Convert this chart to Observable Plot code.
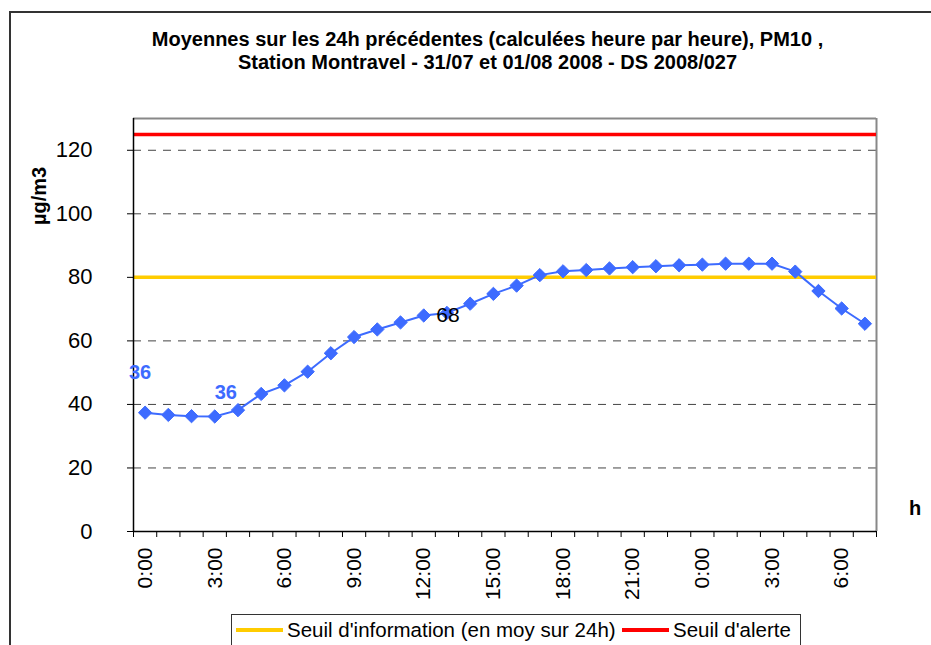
<!DOCTYPE html>
<html>
<head>
<meta charset="utf-8">
<script src="https://cdn.jsdelivr.net/npm/d3@7"></script>
<script src="https://cdn.jsdelivr.net/npm/@observablehq/plot@0.6"></script>
<style>
  html, body { margin: 0; padding: 0; background: #fff; }
  body { font-family: "Liberation Sans", Arial, sans-serif; }
  #wrap { position: relative; width: 931px; height: 645px; overflow: hidden; }
  #wrap svg { position: absolute; left: 0; top: 0; }
  .frame { position: absolute; left: 9px; top: 11px; width: 1000px; height: 1000px;
           border-left: 2px solid #333; border-top: 2px solid #333; box-sizing: border-box; }
  .title { position: absolute; left: 0; width: 975px; top: 28px; text-align: center;
           font-weight: bold; font-size: 20px; line-height: 23px; color: #000; }
  .ylab { position: absolute; left: 39px; top: 196px; transform: translate(-50%, -50%) rotate(-90deg);
          font-weight: bold; font-size: 20px; white-space: nowrap; }
  .hlab { position: absolute; left: 909px; top: 497px; font-weight: bold; font-size: 20px; }
  .legend { position: absolute; left: 231px; top: 614px; width: 570px; height: 60px;
            border: 1px solid #333; box-sizing: border-box; font-size: 20.5px; }
  .legend .item { position: absolute; top: 3px; white-space: nowrap; }
  .legend .sw { display: inline-block; width: 47px; height: 4px; vertical-align: middle;
                margin-right: 4px; position: relative; top: -2px; }
</style>
</head>
<body>
<div id="wrap">
  <div class="frame"></div>
  <div class="title">Moyennes sur les 24h précédentes (calculées heure par heure), PM10 ,<br>Station Montravel - 31/07 et 01/08 2008 - DS 2008/027</div>
  <div class="ylab">µg/m3</div>
  <div class="hlab">h</div>
  <div class="legend">
    <div class="item" style="left:4px"><span class="sw" style="background:#ffcc00"></span>Seuil d'information (en moy sur 24h)</div>
    <div class="item" style="left:390px"><span class="sw" style="background:#ff0000"></span>Seuil d'alerte</div>
  </div>
</div>
<script>
const hourLabels = ["0:00","1:00","2:00","3:00","4:00","5:00","6:00","7:00","8:00","9:00","10:00","11:00",
  "12:00","13:00","14:00","15:00","16:00","17:00","18:00","19:00","20:00","21:00","22:00","23:00",
  "0:00","1:00","2:00","3:00","4:00","5:00","6:00","7:00"];
const pm10 = [37.4, 36.7, 36.3, 36.2, 38.2, 43.3, 46.0, 50.3, 56.1, 61.2, 63.6, 65.8, 68.0, 68.8, 71.7, 74.8,
  77.4, 80.7, 81.9, 82.3, 82.8, 83.2, 83.5, 83.8, 84.0, 84.3, 84.3, 84.3, 81.8, 75.7, 70.2, 65.4];
const shownTicks = [0, 3, 6, 9, 12, 15, 18, 21, 24, 27, 30];
const yTicks = [0, 20, 40, 60, 80, 100, 120];
const gridValues = [20, 40, 60, 100, 120];
const seuilInformation = 80;
const seuilAlerte = 125;
const annotations = [
  {i: 0, label: "36", color: "#3d6bff", weight: "bold", dx: -5, dy: -40},
  {i: 3, label: "36", color: "#3d6bff", weight: "bold", dx: 11, dy: -24},
  {i: 13, label: "68", color: "#000", weight: "normal", dx: 1, dy: 2}
];

const data = pm10.map((v, i) => ({i, v}));
const boundaries = d3.range(hourLabels.length + 1).map(k => k - 0.5);
const blue = "#3d6bff";

const chart = Plot.plot({
  width: 931,
  height: 645,
  marginLeft: 133,
  marginRight: 55,
  marginTop: 118,
  marginBottom: 114,
  style: {fontFamily: "'Liberation Sans', Arial, sans-serif", background: "transparent", color: "#000"},
  x: {domain: [-0.5, hourLabels.length - 0.5], axis: null, label: null},
  y: {domain: [0, 130], axis: null, label: null},
  marks: [
    Plot.ruleY(gridValues, {stroke: "#444", strokeWidth: 1, strokeDasharray: "8,7"}),
    Plot.ruleY([130], {stroke: "#888", strokeWidth: 2}),
    Plot.ruleX([hourLabels.length - 0.5], {stroke: "#888", strokeWidth: 2}),
    Plot.ruleY([seuilInformation], {stroke: "#ffcc00", strokeWidth: 3.5}),
    Plot.ruleY([seuilAlerte], {stroke: "#ff0000", strokeWidth: 3.5}),
    Plot.axisY(yTicks, {tickSize: 6, tickFormat: () => "", stroke: "#000", label: null}),
    Plot.text(yTicks, {y: d => d, text: d => String(d), frameAnchor: "left", textAnchor: "end",
      dx: -41, fontSize: 22, fill: "#000"}),
    Plot.axisX(boundaries, {tickSize: 6, tickFormat: () => "", stroke: "#000", label: null}),
    Plot.axisX(shownTicks, {tickSize: 0, tickPadding: 16, tickRotate: -90, fontSize: 21,
      tickFormat: i => hourLabels[i], label: null}),
    Plot.ruleX([-0.5], {stroke: "#000", strokeWidth: 1.5}),
    Plot.ruleY([0], {stroke: "#000", strokeWidth: 1.5}),
    Plot.line(data, {x: "i", y: "v", stroke: blue, strokeWidth: 2}),
    Plot.dot(data, {x: "i", y: "v", symbol: "diamond2", r: 6, fill: blue, stroke: blue, strokeWidth: 1}),
    ...annotations.map(a => Plot.text([a], {x: "i", y: d => pm10[d.i], text: "label", fill: a.color,
      fontWeight: a.weight, fontSize: a.weight === "bold" ? 20 : 21, dx: a.dx, dy: a.dy}))
  ]
});
document.getElementById("wrap").appendChild(chart);
</script>
</body>
</html>
